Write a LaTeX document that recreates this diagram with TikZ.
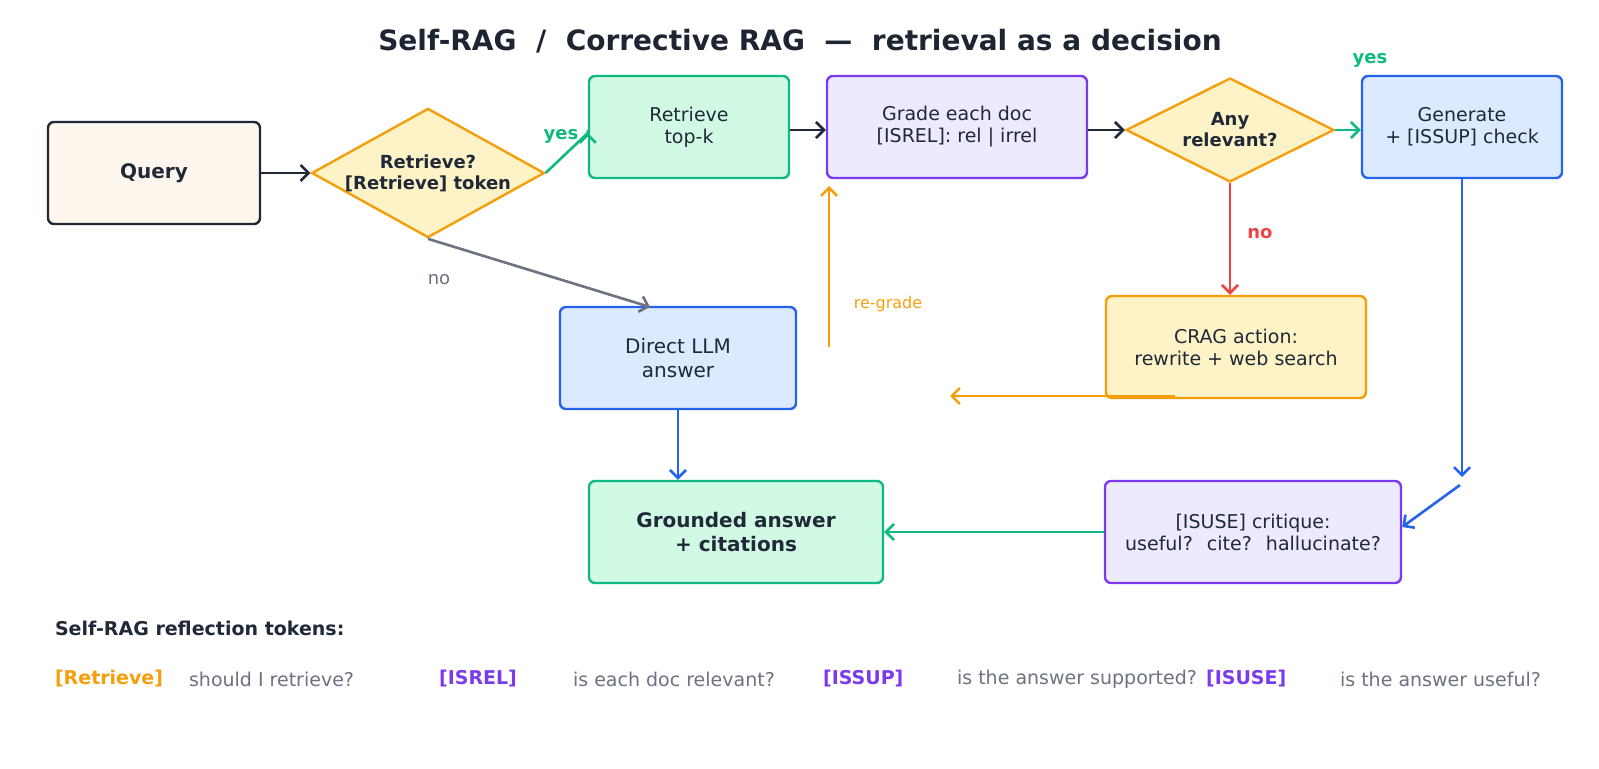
\documentclass[tikz,border=0pt]{standalone}
\usepackage{fontspec}
\setmainfont{DejaVu Sans}
\usepackage{xcolor}
\usetikzlibrary{shapes.geometric,arrows.meta}
\definecolor{ink}{HTML}{1F2937}
\definecolor{gry}{HTML}{6B7280}
\definecolor{grn}{HTML}{10B981}
\definecolor{grnf}{HTML}{D1FAE5}
\definecolor{pur}{HTML}{7C3AED}
\definecolor{purf}{HTML}{EDE9FE}
\definecolor{blu}{HTML}{2563EB}
\definecolor{bluf}{HTML}{DBEAFE}
\definecolor{org}{HTML}{F59E0B}
\definecolor{orgf}{HTML}{FEF3C7}
\definecolor{red}{HTML}{EF4444}
\definecolor{crm}{HTML}{FFF7ED}
\tikzset{
  box/.style={draw, rounded corners=3pt, line width=1.2pt, align=center,
    font=\fontsize{9.5}{11}\selectfont, text=ink, inner sep=0},
  dia/.style={diamond, aspect=1.8, draw=org, fill=orgf, line width=1.2pt,
    align=center, text=ink, font=\fontsize{9}{10.5}\selectfont\bfseries, inner sep=0},
  arr/.style={-{Straight Barb[length=4pt,width=8pt]}, line width=1.3pt},
  lbl/.style={font=\fontsize{9}{10}\selectfont\bfseries}
}
\begin{document}
\begin{tikzpicture}[x=0.5pt, y=-0.5pt]
  \useasboundingbox (0,0) rectangle (1599,769);
  \node[font=\fontsize{14}{16}\selectfont\bfseries, text=ink!90!black] (title) at (800,41)
    {Self-RAG \ / \ Corrective RAG \ — \ retrieval as a decision};
  % boxes
  \node[box, draw=ink, fill=crm, minimum width=106pt, minimum height=51pt,
    font=\fontsize{10}{12}\selectfont\bfseries] (query) at (154,173) {Query};
  \node[dia, minimum width=110pt, minimum height=60pt] (ret) at (428,173) {Retrieve?\\{[Retrieve]} token};
  \node[box, draw=grn, fill=grnf, minimum width=100pt, minimum height=51pt] (topk) at (689,127) {Retrieve\\top-k};
  \node[box, draw=pur, fill=purf, minimum width=130pt, minimum height=51pt] (grade) at (957,127) {Grade each doc\\{[ISREL]}: rel | irrel};
  \node[dia, minimum width=104pt, minimum height=52pt] (any) at (1230,130) {Any\\relevant?};
  \node[box, draw=blu, fill=bluf, minimum width=100pt, minimum height=51pt] (gen) at (1462,127) {Generate\\+ [ISSUP] check};
  \node[box, draw=blu, fill=bluf, minimum width=118pt, minimum height=51pt,
    font=\fontsize{10}{12}\selectfont] (direct) at (678,358) {Direct LLM\\answer};
  \node[box, draw=org, fill=orgf, minimum width=130pt, minimum height=51pt] (crag) at (1236,347) {CRAG action:\\rewrite + web search};
  \node[box, draw=grn, fill=grnf, minimum width=147pt, minimum height=51pt,
    font=\fontsize{10}{12}\selectfont\bfseries] (ground) at (736,532) {Grounded answer\\+ citations};
  \node[box, draw=pur, fill=purf, minimum width=148pt, minimum height=51pt] (isuse) at (1253,532) {[ISUSE] critique:\\useful? \ cite? \ hallucinate?};
  % free ends
  \coordinate (rg0) at (829,347);
  \coordinate (rg1) at (829,186);
  \coordinate (cr0) at (1175,396);
  \coordinate (cr1) at (950,396);
  \coordinate (gb) at (1462,477);
  \coordinate (gc) at (1460,485);
  % connectors
  \draw[arr, ink] (query) -- (ret);
  \draw[arr, grn] (ret.east) -- (topk.south west |- 0,133) -- ++(0,0);
  \draw[arr, ink] (topk.east |- 0,130) -- (grade.west |- 0,130);
  \draw[arr, ink] (grade.east |- 0,130) -- (any.west);
  \draw[arr, grn] (any.east) -- (gen.west |- any.east);
  \draw[arr, red] (any.south) -- (any.south |- crag.north);
  \draw[arr, gry] (ret.south) -- (650,307);
  \draw[arr, org] (rg0) -- (rg1);
  \draw[arr, org] (cr0) -- (cr1);
  \draw[arr, blu] (direct) -- (ground.north -| direct);
  \draw[arr, blu] (gen) -- (gb);
  \draw[arr, blu] (gc) -- (isuse.east |- 0,527);
  \draw[arr, grn] (isuse) -- (ground);
  % labels
  \node[lbl, text=grn] (lyes1) at (561,136) {yes};
  \node[lbl, text=grn] (lyes2) at (1370,60) {yes};
  \node[lbl, text=red] (lno1) at (1260,234) {no};
  \node[font=\fontsize{9}{10}\selectfont, text=gry] (lno2) at (439,280) {no};
  \node[font=\fontsize{8}{10}\selectfont, text=org] (lrg) at (888,304) {re-grade};
  % legend
  \node[anchor=west, font=\fontsize{9.5}{11}\selectfont\bfseries, text=ink] (leg) at (48,628) {Self-RAG reflection tokens:};
  \foreach \x/\t/\c/\d in {48/{[Retrieve]}/org/should I retrieve?, 432/{[ISREL]}/pur/is each doc relevant?,
      816/{[ISSUP]}/pur/is the answer supported?, 1199/{[ISUSE]}/pur/is the answer useful?}{
    \node[anchor=west, font=\fontsize{9.5}{11}\selectfont\bfseries, text=\c] at (\x,679) {\t};
    \node[anchor=west, font=\fontsize{9.5}{11}\selectfont, text=gry] at (\x+134,679) {\d};
  }
\end{tikzpicture}
\end{document}
